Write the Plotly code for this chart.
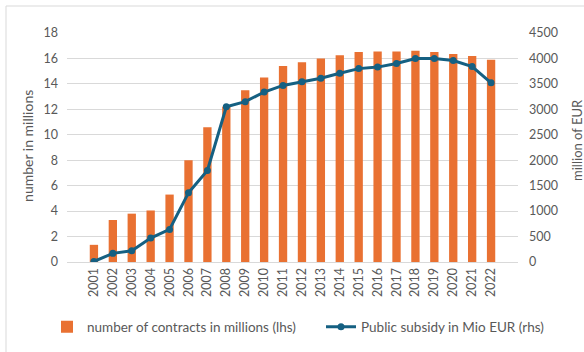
import plotly.graph_objects as go

# Building-savings contracts and the public subsidy paid on them, 2001-2022
years = [str(y) for y in range(2001, 2023)]
contracts_mn = [1.35, 3.3, 3.8, 4.05, 5.3, 8.0, 10.6, 12.2, 13.5, 14.5, 15.4,
                15.7, 16.0, 16.25, 16.5, 16.55, 16.55, 16.6, 16.5, 16.35, 16.2, 15.9]
subsidy_mio_eur = [10, 170, 220, 470, 640, 1360, 1800, 3050, 3150, 3340, 3470,
                   3540, 3610, 3710, 3800, 3830, 3900, 4000, 4000, 3960, 3840, 3520]

left_ticks = list(range(0, 19, 2))
right_ticks = list(range(0, 4501, 500))

ORANGE = "#E97132"
BLUE = "#156082"
TEXT = "#595959"
GRID = "#D9D9D9"
FONT = "Lato, 'Open Sans', sans-serif"

fig = go.Figure()
fig.add_trace(go.Bar(
    x=years, y=contracts_mn, name="number of contracts in millions (lhs)",
    marker=dict(color=ORANGE, line=dict(width=0)), yaxis="y", legend="legend",
))
fig.add_trace(go.Scatter(
    x=years, y=subsidy_mio_eur, name="Public subsidy in Mio EUR (rhs)",
    mode="lines+markers", line=dict(color=BLUE, width=3),
    marker=dict(color=BLUE, size=7), yaxis="y2", legend="legend2",
))

legend_common = dict(orientation="h", xref="container", yref="container",
                     xanchor="left", y=1 - 327 / 352, yanchor="middle",
                     font=dict(size=13.5, color=TEXT), bgcolor="rgba(0,0,0,0)")

fig.update_layout(
    width=584, height=352,
    margin=dict(l=67, r=66, t=33, b=90, autoexpand=False),
    paper_bgcolor="white", plot_bgcolor="white",
    font=dict(family=FONT, size=12.5, color=TEXT),
    bargap=0.56,
    showlegend=True,
    legend=dict(x=47 / 584, **legend_common),
    legend2=dict(x=321 / 584, **legend_common),
    xaxis=dict(type="category", tickangle=-90, showgrid=False, automargin=False,
               showline=True, linecolor=GRID, linewidth=1, ticks="",
               tickfont=dict(size=12.5, color=TEXT)),
    yaxis=dict(range=[0, 18], tickvals=left_ticks, showgrid=True, gridcolor=GRID,
               gridwidth=1, zeroline=False, ticks="", ticklabelstandoff=8,
               automargin=False, tickfont=dict(size=12.5, color=TEXT)),
    yaxis2=dict(range=[0, 4500], tickvals=right_ticks, overlaying="y", side="right",
                showgrid=False, zeroline=False, ticks="", ticklabelstandoff=10,
                automargin=False, tickfont=dict(size=12.5, color=TEXT)),
    annotations=[
        dict(text="number in millions", xref="paper", yref="paper", x=0, y=0.507,
             xanchor="center", yanchor="middle", xshift=-39, textangle=-90,
             showarrow=False, font=dict(size=14, color=TEXT)),
        dict(text="million of EUR", xref="paper", yref="paper", x=1, y=0.533,
             xanchor="center", yanchor="middle", xshift=59, textangle=-90,
             showarrow=False, font=dict(size=13, color=TEXT)),
    ],
    shapes=[
        # chart frame running along the top and left edges of the page
        dict(type="line", xref="paper", yref="paper",
             x0=-61 / 451, x1=1.3, y0=1 + 27 / 229, y1=1 + 27 / 229,
             line=dict(color="#D9D9D9", width=1)),
        dict(type="line", xref="paper", yref="paper",
             x0=-61 / 451, x1=-61 / 451, y0=1 + 27 / 229, y1=-0.5,
             line=dict(color="#D9D9D9", width=1)),
    ],
)

fig.write_html("out.html")
